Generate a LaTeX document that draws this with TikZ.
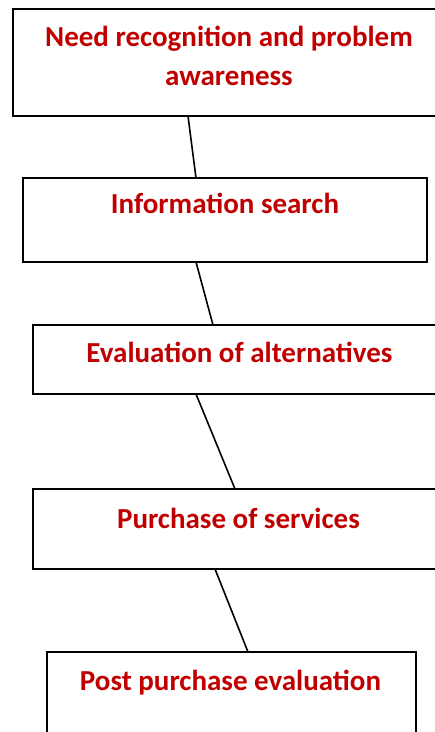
\documentclass[tikz,border=0pt]{standalone}
\usepackage{fontspec}
\setmainfont{Carlito}
\usetikzlibrary{calc}
\definecolor{lblred}{HTML}{C00000}
\begin{document}
\begin{tikzpicture}[x=1pt,y=-1pt,
  stagebox/.style={draw=black,line width=1.8pt,rectangle,inner sep=0pt,outer sep=0pt},
  stagelabel/.style={text=lblred,font=\fontsize{29}{38.3}\selectfont\bfseries,inner sep=0pt,outer sep=0pt,anchor=base,align=center},
  link/.style={draw=black,line width=1.6pt}]
\useasboundingbox (0,0) rectangle (435,732);
\clip (0,0) rectangle (435,732);
\node[stagebox,minimum width=432pt,minimum height=107pt] (b1) at (229,62.5) {};
\node[stagebox,minimum width=404.3pt,minimum height=84pt] (b2) at (224.85,220) {};
\node[stagebox,minimum width=413pt,minimum height=69pt] (b3) at (239.5,359.5) {};
\node[stagebox,minimum width=411pt,minimum height=80pt] (b4) at (238.5,529) {};
\node[stagebox,minimum width=369pt,minimum height=108pt] (b5) at (231.2,706) {};
\node[stagelabel] (t1) at (229,85) {Need recognition and problem\\awareness};
\node[stagelabel] (t2) at (225,213) {Information search};
\node[stagelabel] (t3) at (239.5,362.7) {Evaluation of alternatives};
\node[stagelabel] (t4) at (238.5,528) {Purchase of services};
\node[stagelabel] (t5) at (230.5,690) {Post purchase evaluation};
\draw[link] ($(b1.south west)+(175,0)$) -- ($(b2.north west)+(173.3,0)$);
\draw[link] ($(b2.south west)+(173.3,0)$) -- ($(b3.north west)+(180,0)$);
\draw[link] ($(b3.south west)+(163,0)$) -- ($(b4.north west)+(202,0)$);
\draw[link] ($(b4.south west)+(182,0)$) -- ($(b5.north west)+(201.3,0)$);
\end{tikzpicture}
\end{document}
